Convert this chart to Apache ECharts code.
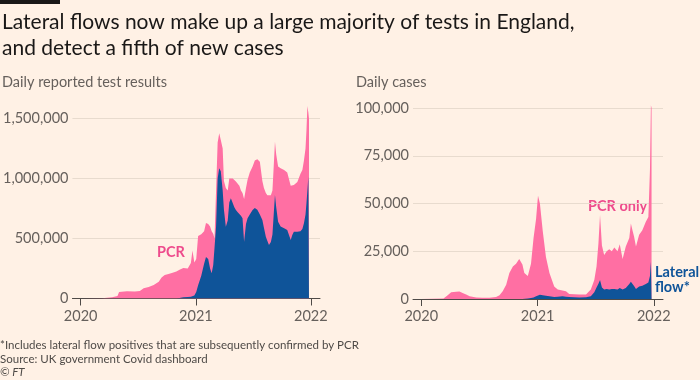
<!DOCTYPE html>
<html>
<head>
<meta charset="utf-8">
<script src="https://cdn.jsdelivr.net/npm/echarts@6/dist/echarts.min.js"></script>
<style>
html,body{margin:0;padding:0;background:#fff1e5;}
#chart{width:700px;height:380px;}
</style>
</head>
<body>
<div id="chart"></div>
<script>
// ---- Data (values in thousands) ----
const testDates = ['2020-01-01','2020-03-09','2020-04-10','2020-04-27','2020-05-02','2020-05-27','2020-06-21','2020-07-07','2020-07-19','2020-08-04','2020-08-20','2020-09-05','2020-09-14','2020-09-24','2020-10-06','2020-10-19','2020-10-31','2020-11-10','2020-11-22','2020-12-06','2020-12-16','2020-12-21','2020-12-27','2021-01-02','2021-01-08','2021-01-18','2021-01-27','2021-02-02','2021-02-09','2021-02-15','2021-02-20','2021-02-25','2021-03-01','2021-03-06','2021-03-11','2021-03-16','2021-03-21','2021-03-27','2021-03-31','2021-04-06','2021-04-12','2021-04-17','2021-04-22','2021-04-28','2021-05-03','2021-05-08','2021-05-13','2021-05-19','2021-05-24','2021-05-29','2021-06-03','2021-06-09','2021-06-14','2021-06-21','2021-06-30','2021-07-07','2021-07-15','2021-07-23','2021-07-31','2021-08-05','2021-08-11','2021-08-16','2021-08-21','2021-08-27','2021-09-01','2021-09-05','2021-09-09','2021-09-13','2021-09-19','2021-09-27','2021-10-08','2021-10-18','2021-10-23','2021-10-29','2021-11-03','2021-11-08','2021-11-19','2021-11-29','2021-12-05','2021-12-10','2021-12-15','2021-12-18','2021-12-21','2021-12-24','2021-12-26'];
const lateralFlowTests = [0,0,0,0,0,0,0,0,0,0,0,0,0,0,0,0,0,5,10,12,15,20,25,55,110,190,290,345,330,250,210,280,420,600,1000,1085,1060,900,740,598,650,800,835,821,760,737,720,710,690,668,473,620,668,700,737,755,740,700,654,590,515,480,446,470,533,700,862,760,640,600,585,571,560,487,530,557,557,560,580,627,700,793,900,1015,1030];
const pcrTests = [0,2,10,20,55,60,58,62,85,95,112,140,175,196,205,215,225,235,245,238,280,380,275,275,410,345,270,285,290,350,350,260,80,300,300,291,260,350,240,322,250,200,180,179,230,238,240,230,210,212,357,300,322,350,363,395,420,440,326,330,365,380,404,390,367,400,445,440,460,485,485,479,483,453,402,389,413,480,490,523,550,607,704,535,470];

const caseDates = ['2020-01-01','2020-03-11','2020-03-24','2020-04-04','2020-04-20','2020-04-30','2020-05-10','2020-05-21','2020-06-01','2020-06-22','2020-07-11','2020-08-02','2020-08-23','2020-09-03','2020-09-13','2020-09-24','2020-10-04','2020-10-15','2020-10-25','2020-11-04','2020-11-10','2020-11-14','2020-11-20','2020-12-01','2020-12-11','2020-12-19','2020-12-27','2021-01-02','2021-01-08','2021-01-17','2021-01-27','2021-02-07','2021-02-22','2021-03-05','2021-03-20','2021-03-31','2021-04-10','2021-05-12','2021-06-02','2021-06-17','2021-06-28','2021-07-05','2021-07-11','2021-07-16','2021-07-22','2021-07-29','2021-08-06','2021-08-14','2021-08-22','2021-08-30','2021-09-09','2021-09-16','2021-09-25','2021-10-05','2021-10-16','2021-10-21','2021-10-26','2021-10-31','2021-11-06','2021-11-16','2021-11-26','2021-12-07','2021-12-15','2021-12-20','2021-12-23','2021-12-25'];
const lateralFlowCases = [0,0,0,0,0,0,0,0,0,0,0,0,0,0,0,0,0,0,0,0,0,0,0,0.3,0.5,0.8,1.5,1.8,2.2,2,1.7,1.5,1,1.2,1.5,1.2,1,0.8,0.9,1.5,3.5,6,8,10,6,5,5.2,5,5.3,5.3,5,5.8,5,5.8,7.8,9,8,6.8,5.3,6.5,7,7.8,8.6,12,19.5,20];
const pcrOnlyCases = [0,0.2,2,3.5,3.8,3.9,3.2,2.3,1.5,0.8,0.6,0.6,1.1,2,4,7.5,13.6,17,18.5,21,22,18,13.6,11.7,18,31.2,40.5,52.2,47.8,33.5,20.3,12.1,5.6,3.8,3,2.8,1.6,1.5,1.4,3.5,6.5,11,21,34,22,18,19.8,21,19.7,21.7,20,22.9,16,21.7,24.2,30.5,28,25.9,22.2,27.1,29,32.7,34.4,55.5,82,80];

const yearTicks = ['2020-01-01','2021-01-01','2022-01-01'];
const testTicks = [0, 500000, 1000000, 1500000];
const caseTicks = [0, 25000, 50000, 75000, 100000];

// ---- Styling ----
const BG = '#fff1e5';
const PINK = '#ff6fa3';
const PINK_TEXT = '#ee4b8c';
const BLUE = '#0f5499';
const GRID = '#e8dbce';
const AXIS = '#4e4a47';
const LABEL = '#66605c';
const FONT = 'Lato';

const P = d => +echarts.number.parseDate(d);
const xMin = P('2019-12-06');
const xMax = P('2022-01-30');
const tickTs = yearTicks.map(P);
// PCR is stacked on top of lateral flow: the pink layer's top is lateral flow + PCR
const layer = (dates, vals, under) => dates.map((d, i) => [P(d), (vals[i] + (under ? under[i] : 0)) * 1000]);

function xAxis(gi) {
  return {
    type: 'value', gridIndex: gi, min: xMin, max: xMax,
    axisLine: { show: true, onZero: false, lineStyle: { color: AXIS, width: 1 } },
    axisTick: { show: true, customValues: tickTs, length: 7, lineStyle: { color: AXIS } },
    axisLabel: {
      customValues: tickTs, color: LABEL, fontFamily: FONT, fontSize: 14.5, margin: 10,
      formatter: v => String(new Date(v).getFullYear())
    },
    splitLine: { show: false }
  };
}
function yAxis(gi, max, ticks) {
  return {
    type: 'value', gridIndex: gi, min: 0, max: max,
    axisLine: { show: false }, axisTick: { show: false },
    axisLabel: {
      customValues: ticks, color: LABEL, fontFamily: FONT, fontSize: 14.5, margin: 4,
      formatter: v => v.toLocaleString('en-GB')
    },
    interval: ticks[1] - ticks[0],
    splitLine: { show: true, showMaxLine: false, lineStyle: { color: GRID, width: 1 } }
  };
}
function area(name, gi, data, color, z) {
  return {
    name, type: 'line', xAxisIndex: gi, yAxisIndex: gi, z,
    data, symbol: 'none', showSymbol: false, silent: true,
    lineStyle: { width: 0 }, areaStyle: { color, opacity: 1 }, itemStyle: { color }
  };
}

const chart = echarts.init(document.getElementById('chart'), null, { renderer: 'canvas' });
chart.setOption({
  backgroundColor: BG,
  animation: false,
  grid: [
    { left: 70, top: 100, width: 250, height: 198.5 },
    { left: 413, top: 100, width: 250, height: 199 }
  ],
  xAxis: [xAxis(0), xAxis(1)],
  yAxis: [yAxis(0, 1654000, testTicks), yAxis(1, 104200, caseTicks)],
  series: [
    area('PCR', 0, layer(testDates, pcrTests, lateralFlowTests), PINK, 2),
    area('Lateral flow', 0, layer(testDates, lateralFlowTests), BLUE, 3),
    area('PCR only', 1, layer(caseDates, pcrOnlyCases, lateralFlowCases), PINK, 2),
    area('Lateral flow*', 1, layer(caseDates, lateralFlowCases), BLUE, 3)
  ],
  graphic: [
    { type: 'rect', left: 0, top: 0, shape: { width: 60, height: 4 }, style: { fill: '#1a1817' } },
    { type: 'text', left: 2, top: 9, style: { text: 'Lateral flows now make up a large majority of tests in England,\nand detect a fifth of new cases', font: '21px ' + FONT, fill: '#1a1817', lineHeight: 26 } },
    { type: 'text', left: 2, top: 75, style: { text: 'Daily reported test results', font: '14.5px ' + FONT, fill: LABEL } },
    { type: 'text', left: 356, top: 75, style: { text: 'Daily cases', font: '14.5px ' + FONT, fill: LABEL } },
    { type: 'text', left: 157, top: 245, style: { text: 'PCR', font: 'bold 14.5px ' + FONT, fill: PINK_TEXT } },
    { type: 'text', left: 223, top: 271, style: { text: 'Lateral flow', font: 'bold 14.5px ' + FONT, fill: '#ffffff' } },
    { type: 'text', left: 588, top: 199, style: { text: 'PCR only', font: 'bold 14.5px ' + FONT, fill: PINK_TEXT } },
    { type: 'text', left: 655, top: 265, style: { text: 'Lateral\nflow*', font: 'bold 14.5px ' + FONT, fill: BLUE, lineHeight: 15 } },
    { type: 'text', left: 0, top: 338, style: { text: '*Includes lateral flow positives that are subsequently confirmed by PCR\nSource: UK government Covid dashboard', font: '11.5px ' + FONT, fill: '#4e4a47', lineHeight: 14 } },
    { type: 'text', left: 0, top: 366, style: { text: '© FT', font: 'italic 11.5px ' + FONT, fill: '#4e4a47' } }
  ]
});
</script>
</body>
</html>
